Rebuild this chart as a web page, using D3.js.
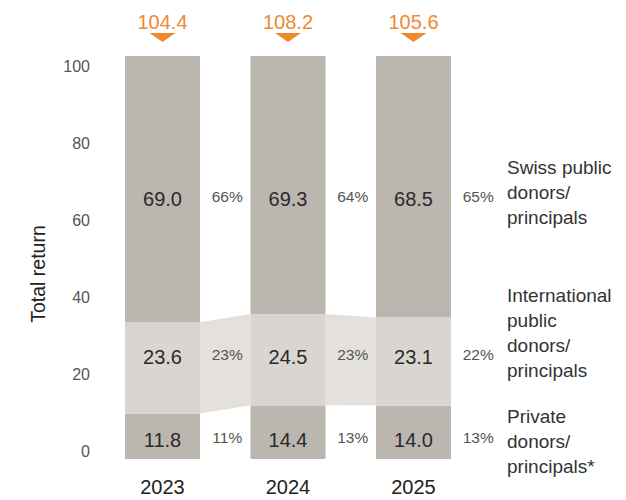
<html lang="en">

<head>
  <meta charset="UTF-8">
  <title>Total return by donor type</title>
  <script src="https://d3js.org/d3.v7.min.js"></script>
</head>

<style>
  body {
    margin: 0;
    background: #fff;
    font-family: "Liberation Sans", Arial, Helvetica, sans-serif;
  }

  .axis .domain,
  .axis line {
    stroke: none;
  }
</style>

<body>
  <svg class="chart" width="626" height="500"></svg>
  <script>
    // data
    const years = ['2023', '2024', '2025'];
    const privateVals = [11.8, 14.4, 14.0];
    const intlVals = [23.6, 24.5, 23.1];
    const swissVals = [69.0, 69.3, 68.5];
    const totals = [104.4, 108.2, 105.6];
    const privatePct = ['11%', '13%', '13%'];
    const intlPct = ['23%', '23%', '22%'];
    const swissPct = ['66%', '64%', '65%'];
    const yTicks = [0, 20, 40, 60, 80, 100];
    const legendLabels = [
      ['Swiss public', 'donors/', 'principals'],
      ['International', 'public', 'donors/', 'principals'],
      ['Private', 'donors/', 'principals*']
    ];

    const svg = d3.select('svg.chart');

    const darkFill = '#bcb6b0';
    const lightFill = '#d9d5d1';
    const bridgeFill = '#e4e0dc';
    const orange = '#f0892f';

    // series from bottom to top
    const series = [
      { vals: privateVals, pct: privatePct, fill: darkFill, labelY: 440, legendY: 416 },
      { vals: intlVals, pct: intlPct, fill: lightFill, labelY: 357, legendY: 295 },
      { vals: swissVals, pct: swissPct, fill: darkFill, labelY: 199, legendY: 167 }
    ];

    // each bar is drawn as shares of its total
    const x = d3.scaleBand().domain(years).range([125, 451]).paddingInner(0.4024);
    const bw = x.bandwidth();
    const gap = x.step() - bw;
    const y = d3.scaleLinear().domain([0, 100]).range([459, 56]);
    const yAxisScale = d3.scaleLinear().domain([0, 100]).range([451, 66]);

    // stacked shares
    const stacks = years.map((yr, i) => {
      let base = 0;
      return series.map(s => {
        const share = s.vals[i] / totals[i] * 100;
        const seg = { y0: base, y1: base + share };
        base += share;
        return seg;
      });
    });

    // bridges for the international segment
    const bridge = d3.line();
    for (let i = 0; i < years.length - 1; i++) {
      const a = stacks[i][1], b = stacks[i + 1][1];
      const xa = x(years[i]) + bw, xb = x(years[i + 1]);
      svg.append('path')
        .attr('d', bridge([[xa, y(a.y1)], [xb, y(b.y1)], [xb, y(b.y0)], [xa, y(a.y0)]]) + 'Z')
        .attr('fill', bridgeFill);
    }

    // bars
    years.forEach((yr, i) => {
      series.forEach((s, j) => {
        const seg = stacks[i][j];
        svg.append('rect')
          .attr('x', x(yr))
          .attr('width', bw)
          .attr('y', y(seg.y1))
          .attr('height', y(seg.y0) - y(seg.y1))
          .attr('fill', s.fill);

        svg.append('text')
          .attr('x', x(yr) + bw / 2)
          .attr('y', s.labelY)
          .attr('dy', '0.35em')
          .attr('text-anchor', 'middle')
          .attr('font-size', 20)
          .attr('fill', '#2a2a2a')
          .text(s.vals[i].toFixed(1));

        svg.append('text')
          .attr('x', x(yr) + bw + gap / 2 + 2)
          .attr('y', s.labelY - 2)
          .attr('dy', '0.35em')
          .attr('text-anchor', 'middle')
          .attr('font-size', 15.5)
          .attr('fill', '#555')
          .text(s.pct[i]);
      });

      // total marker
      const cx = x(yr) + bw / 2;
      svg.append('text')
        .attr('x', cx)
        .attr('y', 22)
        .attr('dy', '0.35em')
        .attr('text-anchor', 'middle')
        .attr('font-size', 20)
        .attr('fill', orange)
        .text(totals[i].toFixed(1));
      svg.append('path')
        .attr('d', d3.line()([[cx - 13, 33], [cx + 13, 33], [cx, 42]]) + 'Z')
        .attr('fill', orange);

      // year labels
      svg.append('text')
        .attr('x', cx)
        .attr('y', 487)
        .attr('dy', '0.35em')
        .attr('text-anchor', 'middle')
        .attr('font-size', 20)
        .attr('fill', '#222')
        .text(yr);
    });

    // y axis
    svg.append('g')
      .attr('class', 'axis')
      .attr('transform', 'translate(92,0)')
      .call(d3.axisLeft(yAxisScale).tickValues(yTicks).tickSize(0).tickPadding(2))
      .selectAll('text')
      .attr('font-size', 16)
      .attr('font-family', '"Liberation Sans", Arial, sans-serif')
      .attr('fill', '#555');

    svg.append('text')
      .attr('transform', 'translate(38,274) rotate(-90)')
      .attr('dy', '0.35em')
      .attr('text-anchor', 'middle')
      .attr('font-size', 19.5)
      .attr('fill', '#222')
      .text('Total return');

    // legend
    series.forEach((s, j) => {
      const lines = legendLabels[2 - j];
      const t = svg.append('text')
        .attr('x', 507)
        .attr('y', s.legendY)
        .attr('font-size', 19)
        .attr('fill', '#333');
      lines.forEach((ln, k) => {
        t.append('tspan')
          .attr('x', 507)
          .attr('y', s.legendY + k * 25)
          .attr('dy', '0.35em')
          .text(ln);
      });
    });
  </script>
</body>

</html>
